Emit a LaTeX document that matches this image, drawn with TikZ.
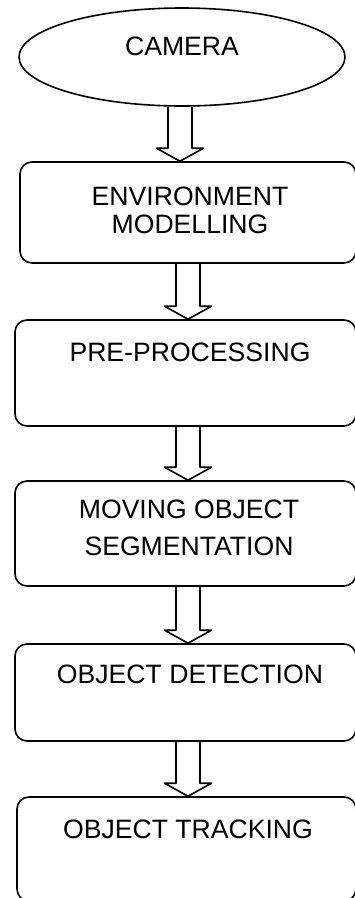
\documentclass[tikz,border=0pt]{standalone}
\usepackage{fontspec}
\setmainfont{Liberation Sans}
\usetikzlibrary{shapes.geometric,calc}
\begin{document}
\begin{tikzpicture}[x=1pt,y=-1pt,line width=1.6pt,line join=round,
  box/.style={draw,rounded corners=12pt,inner sep=0pt},
  lbl/.style={font=\fontsize{26.6}{28}\selectfont,align=center,inner sep=0pt,anchor=base},
  barrow/.style={to path={let \p1=(\tikztostart), \p2=(\tikztotarget) in
    ({\x1-12pt},\y1) -- ({\x1-12pt},{\y2+13pt}) -- ({\x1-23.5pt},{\y2+13pt}) -- (\x1,\y2)
    -- ({\x1+23.5pt},{\y2+13pt}) -- ({\x1+12pt},{\y2+13pt}) -- ({\x1+12pt},\y1)}}]
\useasboundingbox (0,0) rectangle (355,898);
% shapes
\node[draw,ellipse,inner sep=0pt,minimum width=326pt,minimum height=98pt] (cam) at (182,57) {};
\node[box,minimum width=336pt,minimum height=101pt] (env) at (188,212.5) {};
\node[box,minimum width=341pt,minimum height=106pt] (pre) at (185.5,373) {};
\node[box,minimum width=341pt,minimum height=105pt] (mov) at (185.5,533.5) {};
\node[box,minimum width=341pt,minimum height=97pt] (det) at (185.5,692.5) {};
\node[box,minimum width=339pt,minimum height=104pt] (trk) at (186.5,849) {};
% labels
\node[lbl] (tcam) at (182,55) {CAMERA};
\node[lbl] (tenv) at (190,233) {ENVIRONMENT\\MODELLING};
\node[lbl] (tpre) at (190,361.5) {PRE-PROCESSING};
\node[lbl] (tmov) at (189,555) {MOVING OBJECT\\[9pt]SEGMENTATION};
\node[lbl] (tdet) at (190,683) {OBJECT DETECTION};
\node[lbl] (ttrk) at (188,838) {OBJECT TRACKING};
% arrow axes
\coordinate (ax1) at (180,0);
\coordinate (ax2) at (188,0);
\draw[barrow] (cam.south -| ax1) to (env.north -| ax1);
\draw[barrow] (env.south -| ax2) to (pre.north -| ax2);
\draw[barrow] (pre.south -| ax2) to (mov.north -| ax2);
\draw[barrow] (mov.south -| ax2) to (det.north -| ax2);
\draw[barrow] (det.south -| ax2) to (trk.north -| ax2);
\end{tikzpicture}
\end{document}
